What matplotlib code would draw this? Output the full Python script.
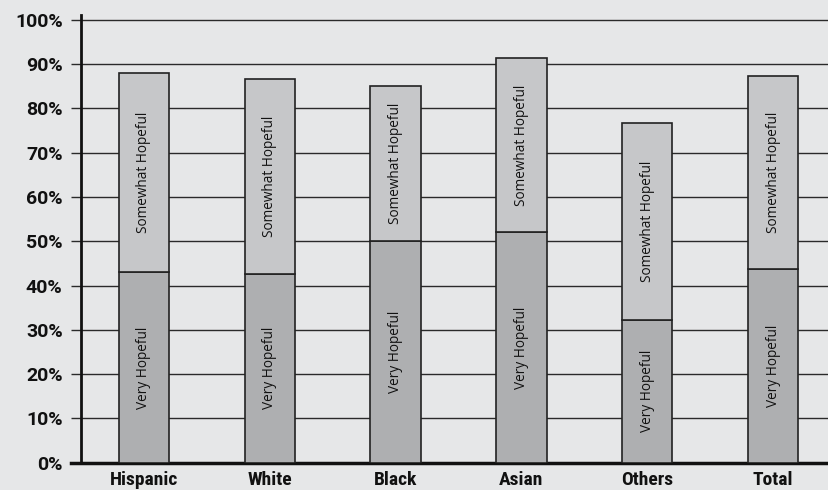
import matplotlib
matplotlib.use("Agg")
import matplotlib.pyplot as plt
from matplotlib.ticker import FuncFormatter

categories = ["Hispanic", "White", "Black", "Asian", "Others", "Total"]
very_hopeful = [43.0, 42.7, 50.0, 52.0, 32.3, 43.8]
somewhat_hopeful = [45.0, 43.9, 35.0, 39.5, 44.4, 43.6]
y_ticks = [0, 10, 20, 30, 40, 50, 60, 70, 80, 90, 100]

bg = "#e6e7e8"
c_very = "#aeafb1"
c_somewhat = "#c6c7c9"
edge = "#222222"
grid_c = "#2a2a2a"

cat_font = ["Roboto Condensed", "PT Sans Narrow", "Fira Sans Condensed",
            "Asap Condensed", "DejaVu Sans"]
pct_font = ["Roboto", "DejaVu Sans"]
bar_font = ["Open Sans", "DejaVu Sans"]

fig = plt.figure(figsize=(8.29, 4.90), dpi=100, facecolor=bg)
ax = fig.add_axes([81 / 829, 27.3 / 490, 748 / 829, 447.2 / 490])
ax.set_facecolor(bg)

x = list(range(len(categories)))
width = 0.4
ax.bar(x, very_hopeful, width, color=c_very, edgecolor=edge, linewidth=1.2, zorder=3)
ax.bar(x, somewhat_hopeful, width, bottom=very_hopeful, color=c_somewhat,
       edgecolor=edge, linewidth=1.2, zorder=3)

for xi, v, s in zip(x, very_hopeful, somewhat_hopeful):
    ax.text(xi, v / 2, "Very Hopeful", rotation=90, ha="center", va="center",
            fontsize=9.8, family=bar_font, color="#111111", zorder=4)
    ax.text(xi, v + s / 2, "Somewhat Hopeful", rotation=90, ha="center", va="center",
            fontsize=9.8, family=bar_font, color="#111111", zorder=4)

ax.set_xlim(-0.5, 5.445)
ax.set_ylim(0, 101)
ax.set_yticks(y_ticks)
ax.yaxis.set_major_formatter(FuncFormatter(lambda v, p: f"{int(v)}%"))
ax.yaxis.grid(True, color=grid_c, linewidth=1.0, zorder=1)
ax.set_axisbelow(True)

ax.set_xticks(x)
ax.set_xticklabels(categories)
ax.tick_params(axis="x", length=0, pad=6.0)
ax.tick_params(axis="y", length=7.2, width=1.0, color=grid_c, pad=6)
for lab in ax.get_xticklabels():
    lab.set_family(cat_font)
    lab.set_fontweight("bold")
    lab.set_fontsize(14)
    lab.set_color("#111111")
for lab in ax.get_yticklabels():
    lab.set_family(pct_font)
    lab.set_fontweight("bold")
    lab.set_fontsize(14)
    lab.set_color("#111111")

for side in ("top", "right"):
    ax.spines[side].set_visible(False)
ax.spines["left"].set_linewidth(2.0)
ax.spines["left"].set_color("#111111")
ax.spines["bottom"].set_linewidth(2.5)
ax.spines["bottom"].set_color("#111111")
ax.spines["bottom"].set_bounds(-0.58, 5.445)

fig.savefig("out.png", dpi=100, facecolor=bg)
